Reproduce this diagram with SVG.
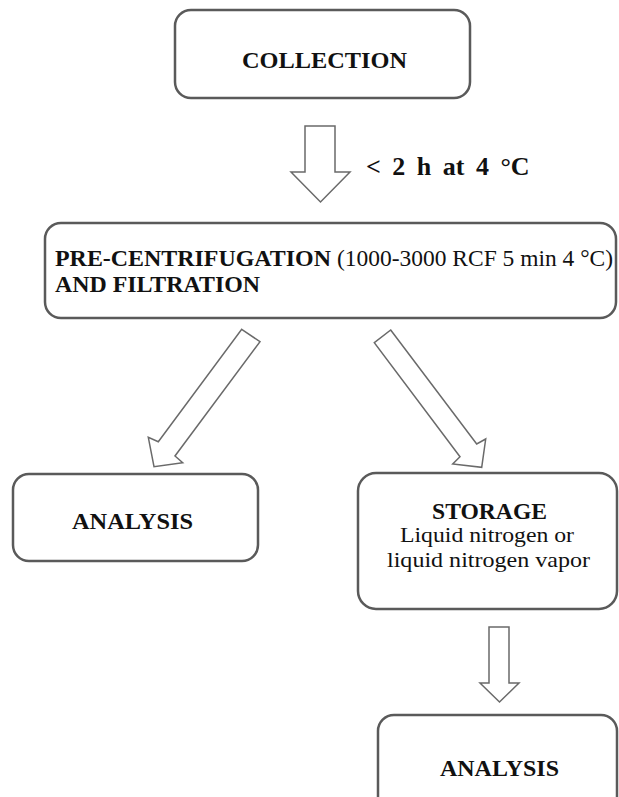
<svg xmlns="http://www.w3.org/2000/svg" width="619" height="797" viewBox="0 0 619 797">
<style>
.box{fill:#fff;stroke:#5a5a5a;stroke-width:2.5}
.arr{fill:#fff;stroke:#6a6a6a;stroke-width:1.5;stroke-linejoin:miter}
text{font-family:"Liberation Serif","Times New Roman",serif;fill:#111}
.b{font-weight:bold}
</style>
<rect width="619" height="797" fill="#fff"/>
<g id="collection">
<rect class="box" x="175" y="10" width="295" height="88" rx="16"/>
<text class="b" x="242" y="68" font-size="24" textLength="165" lengthAdjust="spacingAndGlyphs">COLLECTION</text>
</g>
<g id="precentrifugation">
<rect class="box" x="45" y="223" width="571" height="95" rx="16"/>
<text class="b" x="55" y="266" font-size="23" textLength="276" lengthAdjust="spacingAndGlyphs">PRE-CENTRIFUGATION</text>
<text x="337" y="266" font-size="23" textLength="276" lengthAdjust="spacingAndGlyphs">(1000-3000 RCF 5 min 4 °C)</text>
<text class="b" x="55" y="292" font-size="23" textLength="205" lengthAdjust="spacingAndGlyphs">AND FILTRATION</text>
</g>
<g id="analysis1">
<rect class="box" x="13" y="474" width="245" height="87" rx="16"/>
<text class="b" x="72" y="529" font-size="24" textLength="121" lengthAdjust="spacingAndGlyphs">ANALYSIS</text>
</g>
<g id="storage">
<rect class="box" x="358" y="473" width="259" height="136" rx="18"/>
<text class="b" x="432" y="519" font-size="22.5" textLength="115" lengthAdjust="spacingAndGlyphs">STORAGE</text>
<text x="400" y="542" font-size="22" textLength="174" lengthAdjust="spacingAndGlyphs">Liquid nitrogen or</text>
<text x="387" y="567" font-size="22" textLength="203" lengthAdjust="spacingAndGlyphs">liquid nitrogen vapor</text>
</g>
<g id="analysis2">
<rect class="box" x="378" y="715" width="239" height="100" rx="16"/>
<text class="b" x="440" y="776" font-size="24" textLength="119" lengthAdjust="spacingAndGlyphs">ANALYSIS</text>
</g>
<g id="connectors">
<polygon class="arr" points="305,126 335,126 335,172 350,172 320.5,202 291,172 305,172"/>
<text class="b" x="366" y="175" font-size="26" word-spacing="5">&lt; 2 h at 4 °C</text>
<polygon class="arr" points="241.7,329.3 260,341.7 175,456 182.7,462.7 154,466.7 148.3,437.3 158.3,441.7"/>
<polygon class="arr" points="390.7,330 476.7,444 485.7,439 481.7,467.3 452.7,464 460,456.7 374.3,342.7"/>
<polygon class="arr" points="489,627 509,627 509,683 519,683 499.5,702 480,683 489,683"/>
</g>
</svg>
